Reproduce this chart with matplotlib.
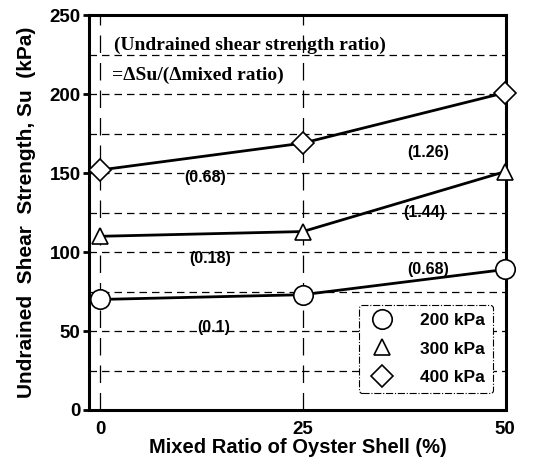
import numpy as np
import matplotlib.pyplot as plt

plt.rcParams['font.family'] = 'Liberation Sans'
plt.rcParams['font.weight'] = 'bold'

# Data
ratio = [0, 25, 50]
su_200 = [70, 73, 89]
su_300 = [110, 113, 151]
su_400 = [152, 169, 201]
labels = ['200 kPa', '300 kPa', '400 kPa']
markers = ['o', '^', 'D']

# ratio annotations (text, x, y)
notes = [('(0.68)', 13, 147), ('(1.26)', 40.5, 163),
         ('(1.44)', 40, 125), ('(0.18)', 13.5, 96),
         ('(0.68)', 40.5, 89), ('(0.1)', 14, 52)]

fig = plt.figure(figsize=(5.41, 4.59), dpi=100)
ax = fig.add_axes([0.1645, 0.1068, 0.771, 0.860])

# grid
for y in range(25, 250, 25):
    ax.axhline(y, color='k', lw=0.9, ls=(0, (6, 4)), zorder=1)
for x in [0, 25]:
    ax.axvline(x, color='k', lw=0.9, ls=(0, (14, 8)), zorder=1)

series = [su_200, su_300, su_400]
for vals, m, lab in zip(series, markers, labels):
    ms = 14 if m == 'o' else (12 if m == '^' else 11)
    ax.plot(ratio, vals, color='k', lw=2, marker=m, ms=ms,
            mfc='white', mec='k', mew=1.2, label=lab, zorder=3,
            clip_on=False)

for t, x, y in notes:
    ax.text(x, y, t, ha='center', va='center', fontsize=11.5,
            fontweight='bold', zorder=4)

ax.text(1.7, 231, '(Undrained shear strength ratio)', family='Liberation Serif',
        fontsize=14, fontweight='bold', va='center')
ax.text(1.5, 212, '=\u0394Su/(\u0394mixed ratio)', family='Liberation Serif',
        fontsize=14, fontweight='bold', va='center')

ax.set_xlim(-1.4, 50.1)
ax.set_ylim(0, 250)
ax.set_xticks([0, 25, 50])
ax.set_yticks([0, 50, 100, 150, 200, 250])
ax.tick_params(axis='both', labelsize=13.5, width=2, length=4)
ax.tick_params(axis='y', pad=2)
ax.tick_params(axis='x', length=0, pad=8)
for lab in ax.get_xticklabels() + ax.get_yticklabels():
    lab.set_fontweight('bold')
for s in ax.spines.values():
    s.set_linewidth(2.2)

ax.set_xlabel('Mixed Ratio of Oyster Shell (%)', fontsize=14.5, fontweight='bold',
              labelpad=0)
ax.set_ylabel('Undrained  Shear  Strength, Su  (kPa)', fontsize=15,
              fontweight='bold', labelpad=10)

leg = ax.legend(loc='lower right', bbox_to_anchor=(0.99, 0.02), frameon=True,
                fancybox=True, fontsize=12.5, handlelength=1.6,
                borderpad=0.5, labelspacing=0.75, handletextpad=1.4)
for line in leg.get_lines():
    line.set_linestyle('none')
fr = leg.get_frame()
fr.set_edgecolor('k')
fr.set_linestyle('-.')
fr.set_linewidth(0.8)
fr.set_alpha(1)

fig.savefig('out.png', dpi=100)
